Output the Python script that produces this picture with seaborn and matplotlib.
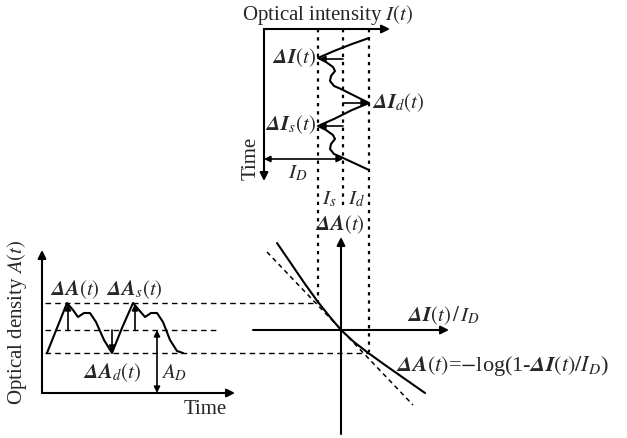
import numpy as np
import pandas as pd
import matplotlib.pyplot as plt
import seaborn as sns

# diagram drawn in one canvas, units = pixels of the 627x438 picture (y grows downwards)

# top panel: optical intensity I(t) vs time (time runs downwards)
intensity_x = [369, 352, 334, 318, 326, 333, 335, 331, 330, 334, 341, 369,
               352, 334, 318, 326, 333, 335, 331, 330, 334, 341, 369]
intensity_y = [38, 44, 51, 58, 62, 67, 71, 76, 81, 86, 89, 103,
               110, 119, 126, 130, 135, 139, 144, 149, 154, 157, 170]

# bottom-left panel: optical density A(t) vs time
density_x = [47, 57, 67, 73, 78, 84, 90, 96, 104, 112, 122, 133,
             139, 145, 151, 157, 163, 170, 177, 183]
density_y = [353, 328, 303, 310, 317, 313, 313, 322, 340, 353, 328, 303,
             310, 317, 313, 313, 322, 340, 351, 353]

# right panel: dA = -log(1 - dI/I_D) curve and its tangent at the origin
curve_x = [277, 290, 305, 318, 330, 341, 354, 367, 385, 405, 425]
curve_y = [243, 262, 284, 302, 317, 330, 342, 352, 365, 379, 393]
tangent_x = [267, 413]
tangent_y = [252, 405]

# reference levels
level_x = [318, 343, 369]          # I_s, I_D, I_d columns (dotted)
level_x_bottom = [303, 205, 352]
level_y = [303, 330, 353]          # dA_s, A_D, dA_d rows (dashed)
level_y_right = [318, 220, 369]

sns.set_theme(style="white")
plt.rcParams['font.family'] = ['Liberation Serif', 'DejaVu Serif']
plt.rcParams['mathtext.fontset'] = 'stix'

fig = plt.figure(figsize=(6.27, 4.38), dpi=100)
ax = fig.add_axes([0, 0, 1, 1])
ax.set_xlim(0, 627)
ax.set_ylim(438, 0)
ax.axis('off')

wave = pd.DataFrame({'x': intensity_x, 'y': intensity_y})
sns.lineplot(data=wave, x='x', y='y', sort=False, estimator=None, color='black', lw=1.5, ax=ax)
dens = pd.DataFrame({'x': density_x, 'y': density_y})
sns.lineplot(data=dens, x='x', y='y', sort=False, estimator=None, color='black', lw=1.5, ax=ax)
sns.lineplot(x=curve_x, y=curve_y, sort=False, estimator=None, color='black', lw=1.5, ax=ax)
ax.plot(tangent_x, tangent_y, color='black', lw=1.1, ls=(0, (3, 2.5)))

for x, yb in zip(level_x, level_x_bottom):
    ax.plot([x, x], [29, yb], color='black', lw=1.6, ls=(0, (1.5, 2.2)))
for y, xr in zip(level_y, level_y_right):
    ax.plot([45, xr], [y, y], color='black', lw=1.0, ls=(0, (4, 3)))


def arrow(x0, y0, x1, y1, style='-|>', ms=12, lw=1.5):
    ax.annotate('', xy=(x1, y1), xytext=(x0, y0),
                arrowprops=dict(arrowstyle=style, color='black', lw=lw,
                                mutation_scale=ms, shrinkA=0, shrinkB=0))


# axes of the three panels
arrow(264, 29, 390, 29)
arrow(264, 29, 264, 181)
arrow(42, 393, 42, 250)
arrow(42, 393, 235, 393)
arrow(253, 330, 449, 330)
arrow(341, 434, 341, 237)

# small arrows in the intensity panel
arrow(343, 59, 319, 59, ms=9, lw=1.2)
arrow(343, 103, 368, 103, ms=9, lw=1.2)
arrow(343, 126, 319, 126, ms=9, lw=1.2)
arrow(264, 159, 343, 159, style='<|-|>', ms=9, lw=1.2)

# small arrows in the density panel
arrow(68, 330, 68, 304, ms=9, lw=1.2)
arrow(135, 330, 135, 304, ms=9, lw=1.2)
arrow(112, 330, 112, 352, ms=9, lw=1.2)
arrow(157, 393, 157, 330, style='<|-|>', ms=9, lw=1.2)

fs = 15
ax.text(242, 20, 'Optical intensity $I(t)$', fontsize=fs, va='baseline')
ax.text(316, 58, r'$\mathbfit{\Delta I}(t)$', fontsize=fs, ha='right', va='center')
ax.text(372, 103, r'$\mathbfit{\Delta I}_d(t)$', fontsize=fs, ha='left', va='center')
ax.text(316, 125, r'$\mathbfit{\Delta I}_s(t)$', fontsize=fs, ha='right', va='center')
ax.text(251, 158, 'Time', fontsize=fs, rotation=90, ha='center', va='center')
ax.text(298, 173, r'$I_D$', fontsize=fs, ha='center', va='center')
ax.text(329, 199, r'$I_s$', fontsize=fs, ha='center', va='center')
ax.text(356, 199, r'$I_d$', fontsize=fs, ha='center', va='center')
ax.text(340, 225, r'$\mathbfit{\Delta A}(t)$', fontsize=fs, ha='center', va='center')
ax.text(407, 316, r'$\mathbfit{\Delta I}(t)\,/\,I_D$', fontsize=fs, ha='left', va='center')
ax.text(396, 366, r'$\mathbfit{\Delta A}(t)$=$-$log(1-$\mathbfit{\Delta I}(t)/I_D$)',
        fontsize=16, ha='left', va='center')

ax.text(17, 322, 'Optical density $A(t)$', fontsize=fs, rotation=90, ha='center', va='center')
ax.text(75, 290, r'$\mathbfit{\Delta A}(t)$', fontsize=fs, ha='center', va='center')
ax.text(134, 290, r'$\mathbfit{\Delta A}_s(t)$', fontsize=fs, ha='center', va='center')
ax.text(112, 373, r'$\mathbfit{\Delta A}_d(t)$', fontsize=fs, ha='center', va='center')
ax.text(161, 373, r'$A_D$', fontsize=fs, ha='left', va='center')
ax.text(205, 410, 'Time', fontsize=fs, ha='center', va='center')

plt.savefig('out.png', dpi=100)
